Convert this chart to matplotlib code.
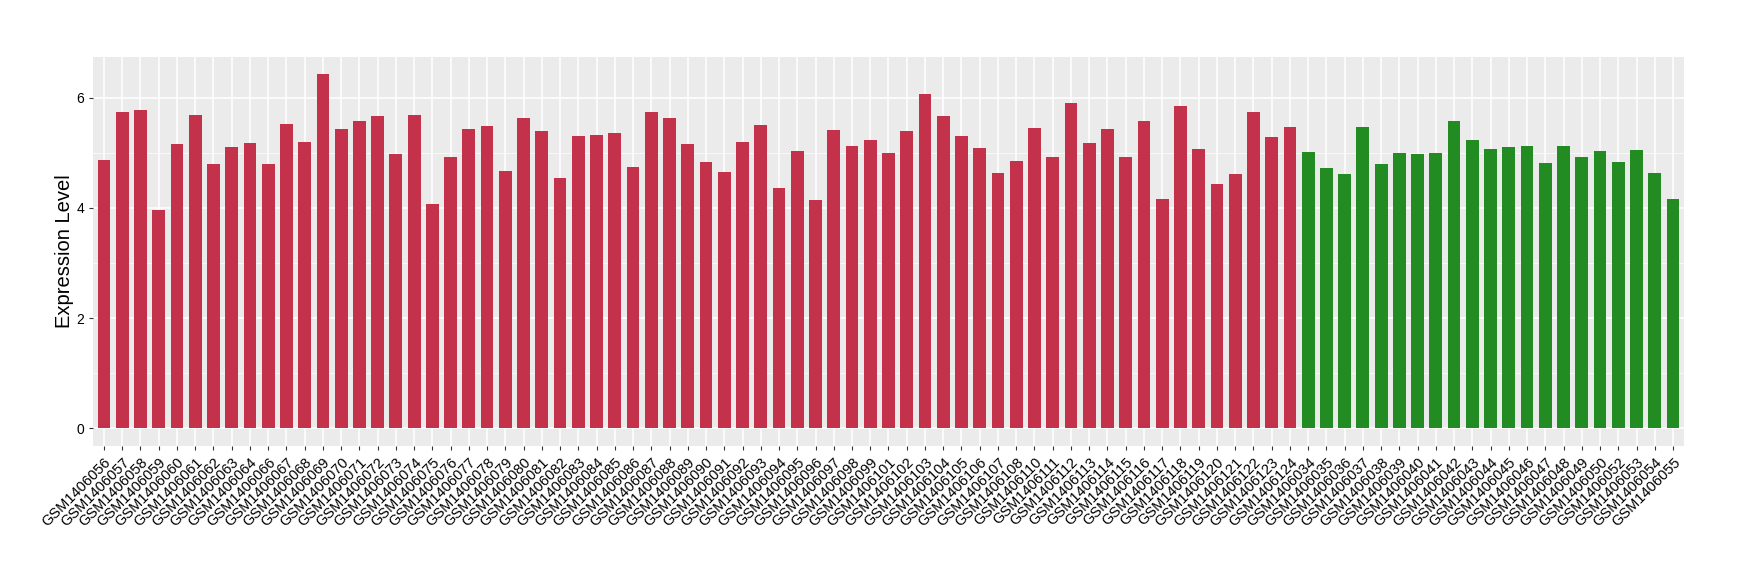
import matplotlib
matplotlib.use("Agg")
import matplotlib.pyplot as plt
import matplotlib.transforms as mtransforms

plt.rcParams['font.family'] = ['Liberation Sans', 'DejaVu Sans']

red_samples = ["GSM1406056", "GSM1406057", "GSM1406058", "GSM1406059", "GSM1406060",
               "GSM1406061", "GSM1406062", "GSM1406063", "GSM1406064", "GSM1406066",
               "GSM1406067", "GSM1406068", "GSM1406069", "GSM1406070", "GSM1406071",
               "GSM1406072", "GSM1406073", "GSM1406074", "GSM1406075", "GSM1406076",
               "GSM1406077", "GSM1406078", "GSM1406079", "GSM1406080", "GSM1406081",
               "GSM1406082", "GSM1406083", "GSM1406084", "GSM1406085", "GSM1406086",
               "GSM1406087", "GSM1406088", "GSM1406089", "GSM1406090", "GSM1406091",
               "GSM1406092", "GSM1406093", "GSM1406094", "GSM1406095", "GSM1406096",
               "GSM1406097", "GSM1406098", "GSM1406099", "GSM1406101", "GSM1406102",
               "GSM1406103", "GSM1406104", "GSM1406105", "GSM1406106", "GSM1406107",
               "GSM1406108", "GSM1406110", "GSM1406111", "GSM1406112", "GSM1406113",
               "GSM1406114", "GSM1406115", "GSM1406116", "GSM1406117", "GSM1406118",
               "GSM1406119", "GSM1406120", "GSM1406121", "GSM1406122", "GSM1406123",
               "GSM1406124"]
red_values = [4.86, 5.73, 5.77, 3.96, 5.15, 5.68, 4.79, 5.10, 5.17, 4.79,
              5.52, 5.19, 6.42, 5.43, 5.57, 5.66, 4.97, 5.68, 4.07, 4.92,
              5.43, 5.48, 4.67, 5.62, 5.39, 4.54, 5.30, 5.32, 5.35, 4.74,
              5.73, 5.62, 5.15, 4.83, 4.65, 5.19, 5.50, 4.36, 5.03, 4.14,
              5.41, 5.12, 5.23, 4.99, 5.39, 6.06, 5.66, 5.30, 5.08, 4.63,
              4.85, 5.44, 4.92, 5.90, 5.17, 5.43, 4.92, 5.57, 4.16, 5.84,
              5.06, 4.43, 4.61, 5.73, 5.28, 5.46]

green_samples = ["GSM1406034", "GSM1406035", "GSM1406036", "GSM1406037", "GSM1406038",
                 "GSM1406039", "GSM1406040", "GSM1406041", "GSM1406042", "GSM1406043",
                 "GSM1406044", "GSM1406045", "GSM1406046", "GSM1406047", "GSM1406048",
                 "GSM1406049", "GSM1406050", "GSM1406052", "GSM1406053", "GSM1406054",
                 "GSM1406055"]
green_values = [5.01, 4.72, 4.61, 5.46, 4.79, 4.99, 4.97, 4.99, 5.57, 5.23,
                5.06, 5.10, 5.12, 4.81, 5.12, 4.92, 5.03, 4.83, 5.05, 4.63,
                4.16]

y_ticks = [0, 2, 4, 6]
y_label = "Expression Level"
red_color = "#C3314A"
green_color = "#228B22"

samples = red_samples + green_samples
values = red_values + green_values
colors = [red_color] * len(red_samples) + [green_color] * len(green_samples)
n = len(samples)

fig = plt.figure(figsize=(17.4, 5.8), dpi=100)
ax = fig.add_axes([93 / 1740, 1 - 446 / 580, (1684 - 93) / 1740, (446 - 56.7) / 580])
ax.set_facecolor("#EBEBEB")

x = list(range(n))
ax.bar(x, values, width=0.7, color=colors, zorder=3)

ax.set_xlim(-0.6, n - 1 + 0.6)
ymax = max(values)
ax.set_ylim(-0.05 * ymax, ymax * 1.05)

ax.set_yticks(y_ticks)
ax.set_yticks([1, 3, 5], minor=True)
ax.set_xticks(x)
ax.set_xticklabels(samples, rotation=45, ha="right", va="top", rotation_mode="anchor",
                   fontsize=10.5, color="black")
offset = mtransforms.ScaledTranslation(5 / 100, 0, fig.dpi_scale_trans)
for lab in ax.get_xticklabels():
    lab.set_transform(lab.get_transform() + offset)
ax.tick_params(axis="y", which="major", labelsize=10, colors="#333333", length=3, width=0.8,
               labelcolor="black")
ax.tick_params(axis="y", which="minor", length=0)
ax.tick_params(axis="x", length=3, width=0.8, colors="#333333", labelcolor="black")

ax.grid(True, which="major", color="white", linewidth=1.1, zorder=0)
ax.grid(True, which="minor", axis="y", color="white", linewidth=0.5, zorder=0)
ax.set_axisbelow(True)
for s in ax.spines.values():
    s.set_visible(False)

ax.set_ylabel(y_label, fontsize=14.5)
ax.yaxis.set_label_coords(-19 / (1684 - 93), 0.5)

fig.savefig("out.png", dpi=100, facecolor="white")
